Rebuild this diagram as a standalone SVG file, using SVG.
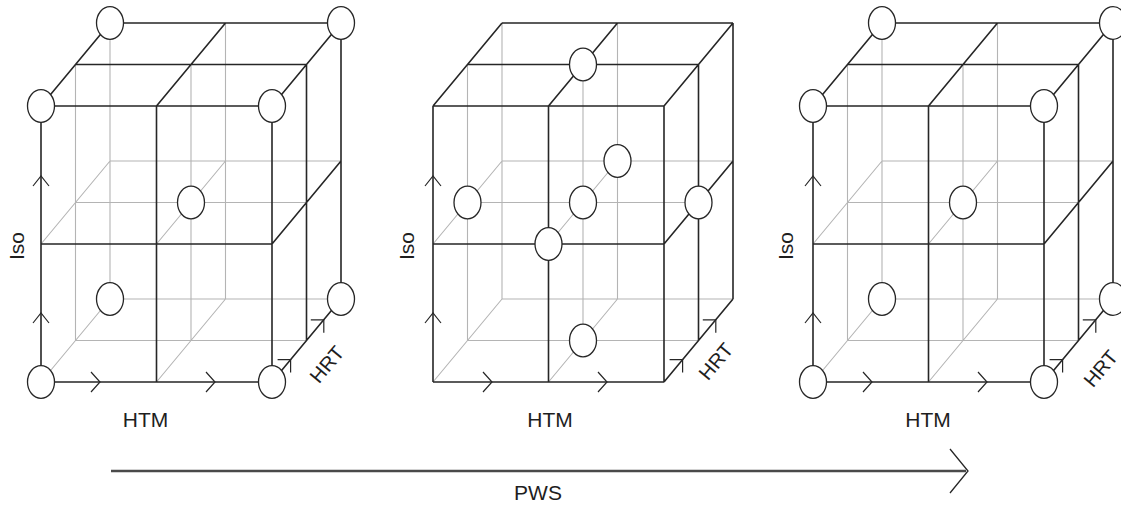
<svg xmlns="http://www.w3.org/2000/svg" width="1121" height="505" viewBox="0 0 1121 505">
<style>
.g{fill:none;stroke:#b4b4b4;stroke-width:1.1}
.k{fill:none;stroke:#262626;stroke-width:1.6}
.ch{fill:none;stroke:#262626;stroke-width:1.2}
.n{fill:#fff;stroke:#262626;stroke-width:1.3}
.t{font-family:"Liberation Sans",Arial,sans-serif;font-size:21px;fill:#1e1e1e}
.t2{font-family:"Liberation Sans",Arial,sans-serif;font-size:20px;fill:#1e1e1e}
</style>
<defs>
<g id="frame">
<path class="g" d="M69 23V299M184.5 23V299M69 161H300M69 299H300M34.5 64.5V340.5M150 64.5V340.5M34.5 202.5H265.5M34.5 340.5H265.5M0 244L69 161M115.5 244L184.5 161M0 382L69 299M115.5 382L184.5 299"/>
<path class="k" d="M0 106H231M0 244H231M0 382H231M0 106V382M115.5 106V382M231 106V382M69 23H300M34.5 64.5H265.5M0 106L69 23M115.5 106L184.5 23M231 106L300 23M300 23V299M265.5 64.5V340.5M231 244L300 161M231 382L300 299"/>
<path class="ch" d="M-8 186L0 176L8 186M-8 323L0 313L8 323M50 372L59 382L50 392M165 372L174 382L165 392M236.6 359.6H249.6V372.6M269.8 319.8H282.8V332.8"/>
</g>
<ellipse id="nd" class="n" cx="0" cy="0" rx="13.5" ry="16.3"/>
</defs>
<g id="cube1">
<use href="#frame" x="41" y="0"/>
<g id="cube1-points">
<use href="#nd" x="110" y="23"/>
<use href="#nd" x="341" y="23"/>
<use href="#nd" x="41" y="106"/>
<use href="#nd" x="272" y="106"/>
<use href="#nd" x="191" y="202.5"/>
<use href="#nd" x="110" y="299"/>
<use href="#nd" x="341" y="299"/>
<use href="#nd" x="41" y="382"/>
<use href="#nd" x="272" y="382"/>
</g>
<text class="t" transform="translate(24,246) rotate(-90)" text-anchor="middle">Iso</text>
<text class="t" x="145.5" y="427" text-anchor="middle">HTM</text>
<text class="t2" transform="translate(332.2,368.8) rotate(-50)" text-anchor="middle">HRT</text>
</g>
<g id="cube2">
<use href="#frame" x="433" y="0"/>
<g id="cube2-points">
<use href="#nd" x="583" y="64.5"/>
<use href="#nd" x="617.5" y="161"/>
<use href="#nd" x="467.5" y="202.5"/>
<use href="#nd" x="583" y="202.5"/>
<use href="#nd" x="698.5" y="202.5"/>
<use href="#nd" x="548.5" y="244"/>
<use href="#nd" x="583" y="340.5"/>
</g>
<text class="t" transform="translate(413.5,246) rotate(-90)" text-anchor="middle">Iso</text>
<text class="t" x="550" y="427" text-anchor="middle">HTM</text>
<text class="t2" transform="translate(721.2,365.8) rotate(-50)" text-anchor="middle">HRT</text>
</g>
<g id="cube3">
<use href="#frame" x="813" y="0"/>
<g id="cube3-points">
<use href="#nd" x="882" y="23"/>
<use href="#nd" x="1113" y="23"/>
<use href="#nd" x="813" y="106"/>
<use href="#nd" x="1044" y="106"/>
<use href="#nd" x="963" y="202.5"/>
<use href="#nd" x="882" y="299"/>
<use href="#nd" x="1113" y="299"/>
<use href="#nd" x="813" y="382"/>
<use href="#nd" x="1044" y="382"/>
</g>
<text class="t" transform="translate(793,246) rotate(-90)" text-anchor="middle">Iso</text>
<text class="t" x="928" y="427" text-anchor="middle">HTM</text>
<text class="t2" transform="translate(1106,373) rotate(-50)" text-anchor="middle">HRT</text>
</g>
<g id="connectors">
<path d="M111 471H966" fill="none" stroke="#4a4a4a" stroke-width="2.4"/>
<path d="M950 449L968 471L950 493" fill="none" stroke="#262626" stroke-width="1.3"/>
</g>
<text class="t" x="538" y="500" text-anchor="middle">PWS</text>
</svg>
